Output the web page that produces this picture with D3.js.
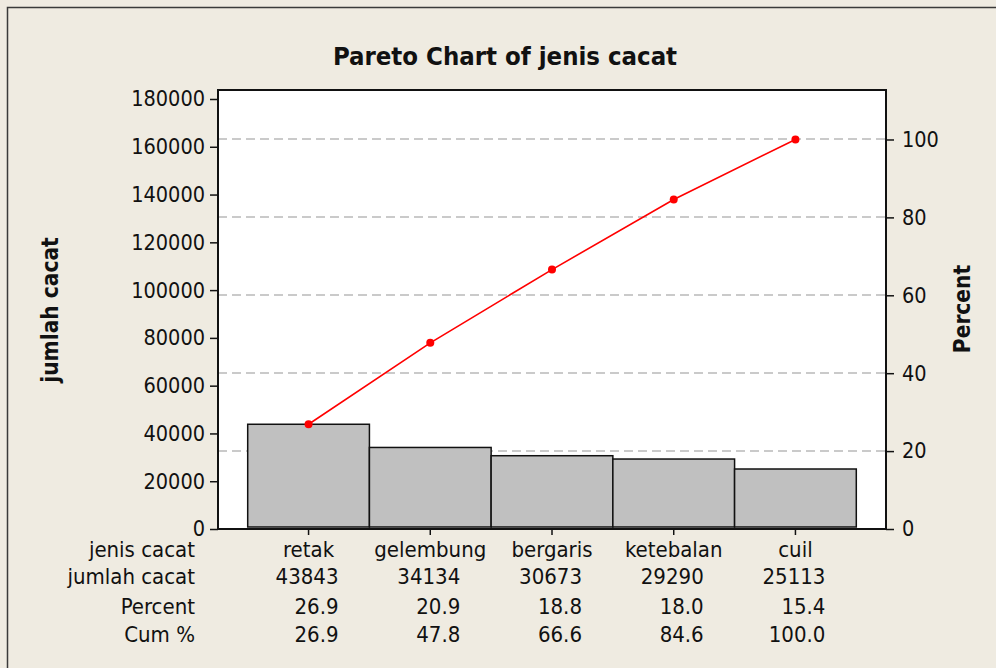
<!DOCTYPE html>
<html lang="en">
<head>
<meta charset="UTF-8">
<title>Pareto Chart of jenis cacat</title>
<script src="https://d3js.org/d3.v7.min.js"></script>
<style>
    html, body { margin: 0; padding: 0; background: #efebe1; }
    svg text { font-family: "DejaVu Sans Condensed", "DejaVu Sans", sans-serif; font-stretch: condensed; fill: #111; }
    .bold { font-weight: bold; }
</style>
</head>
<body>
<div id="chart"></div>
<script>
var categories = ["retak", "gelembung", "bergaris", "ketebalan", "cuil"];
var counts = [43843, 34134, 30673, 29290, 25113];
var percents = ["26.9", "20.9", "18.8", "18.0", "15.4"];
var cumPercents = ["26.9", "47.8", "66.6", "84.6", "100.0"];
var countTicks = [0, 20000, 40000, 60000, 80000, 100000, 120000, 140000, 160000, 180000];
var pctTicks = [0, 20, 40, 60, 80, 100];

var W = 996, H = 668;
var plot = { left: 218, right: 886, top: 90, bottom: 529 };
var total = d3.sum(counts);
var countMax = 183767;

var svg = d3.select("#chart").append("svg")
    .attr("width", W)
    .attr("height", H);

svg.append("rect")
    .attr("width", W).attr("height", H)
    .attr("fill", "#efebe1");

// outer frame
svg.append("rect")
    .attr("x", 7.5).attr("y", 7.5)
    .attr("width", 1100).attr("height", 1100)
    .attr("fill", "none")
    .attr("stroke", "#3a3a3a")
    .attr("stroke-width", 1.5);

var x = d3.scaleBand()
    .domain(categories)
    .range([plot.left, plot.right])
    .paddingInner(0)
    .paddingOuter(0.244);

var y = d3.scaleLinear()
    .domain([0, countMax])
    .range([plot.bottom, plot.top]);

var yPct = d3.scaleLinear()
    .domain([0, countMax / total * 100])
    .range([plot.bottom, plot.top]);

// plot area
svg.append("rect")
    .attr("x", plot.left).attr("y", plot.top)
    .attr("width", plot.right - plot.left)
    .attr("height", plot.bottom - plot.top)
    .attr("fill", "#fff");

// gridlines on percent scale
svg.selectAll(".grid")
    .data(pctTicks.filter(function(d) { return d > 0; }))
    .enter().append("line")
    .attr("class", "grid")
    .attr("x1", plot.left).attr("x2", plot.right)
    .attr("y1", function(d) { return Math.round(yPct(d)); })
    .attr("y2", function(d) { return Math.round(yPct(d)); })
    .attr("stroke", "#b9b9b9")
    .attr("stroke-width", 1.6)
    .attr("stroke-dasharray", "9,5");

// bars
svg.selectAll(".bar")
    .data(counts)
    .enter().append("rect")
    .attr("class", "bar")
    .attr("x", function(d, i) { return x(categories[i]); })
    .attr("y", function(d) { return y(d); })
    .attr("width", x.bandwidth())
    .attr("height", function(d) { return plot.bottom - y(d) - 2; })
    .attr("fill", "#c0c0c0")
    .attr("stroke", "#111")
    .attr("stroke-width", 1.5);

// cumulative line
var cx = function(i) { return x(categories[i]) + x.bandwidth() / 2; };
var line = d3.line()
    .x(function(d, i) { return cx(i); })
    .y(function(d) { return yPct(+d); });

svg.append("path")
    .datum(cumPercents)
    .attr("d", line)
    .attr("fill", "none")
    .attr("stroke", "#ff0000")
    .attr("stroke-width", 1.6);

svg.selectAll(".pt")
    .data(cumPercents)
    .enter().append("circle")
    .attr("class", "pt")
    .attr("cx", function(d, i) { return cx(i); })
    .attr("cy", function(d) { return yPct(+d); })
    .attr("r", 4)
    .attr("fill", "#ff0000");

// plot frame
svg.append("rect")
    .attr("x", plot.left).attr("y", plot.top)
    .attr("width", plot.right - plot.left)
    .attr("height", plot.bottom - plot.top)
    .attr("fill", "none")
    .attr("stroke", "#111")
    .attr("stroke-width", 2);

// left axis
var yAxis = d3.axisLeft(y).tickValues(countTicks).tickSize(8).tickPadding(5).tickFormat(d3.format("d"));
var gy = svg.append("g").attr("transform", "translate(" + plot.left + ",0)").call(yAxis);
gy.select(".domain").remove();
gy.selectAll("line").attr("stroke", "#111").attr("stroke-width", 1.5);
gy.selectAll("text").style("font-size", "21.5px").attr("fill", "#111");

// right axis
var pAxis = d3.axisRight(yPct).tickValues(pctTicks).tickSize(8).tickPadding(8);
var gp = svg.append("g").attr("transform", "translate(" + plot.right + ",0)").call(pAxis);
gp.select(".domain").remove();
gp.selectAll("line").attr("stroke", "#111").attr("stroke-width", 1.5);
gp.selectAll("text").style("font-size", "21.5px").attr("fill", "#111");

// x ticks
svg.selectAll(".xtick")
    .data(categories)
    .enter().append("line")
    .attr("class", "xtick")
    .attr("x1", function(d, i) { return cx(i); })
    .attr("x2", function(d, i) { return cx(i); })
    .attr("y1", plot.bottom)
    .attr("y2", plot.bottom + 6)
    .attr("stroke", "#111")
    .attr("stroke-width", 1.5);

// table rows under the chart
var rowLabels = ["jenis cacat", "jumlah cacat", "Percent", "Cum %"];
var rowY = [549, 576, 606, 634];
var rows = [categories, counts.map(String), percents, cumPercents];

svg.selectAll(".rowlab")
    .data(rowLabels)
    .enter().append("text")
    .attr("class", "rowlab")
    .attr("x", 195)
    .attr("y", function(d, i) { return rowY[i]; })
    .attr("dy", "0.36em")
    .attr("text-anchor", "end")
    .style("font-size", "22px")
    .text(function(d) { return d; });

rows.forEach(function(vals, r) {
    svg.selectAll(".row" + r)
        .data(vals)
        .enter().append("text")
        .attr("class", "row" + r)
        .attr("x", function(d, i) { return r === 0 ? cx(i) : cx(i) + 30; })
        .attr("y", rowY[r])
        .attr("dy", "0.36em")
        .attr("text-anchor", r === 0 ? "middle" : "end")
        .style("font-size", "22px")
        .text(function(d) { return d; });
});

// title and axis titles
svg.append("text")
    .attr("class", "bold")
    .attr("x", 505).attr("y", 56)
    .attr("dy", "0.36em")
    .attr("text-anchor", "middle")
    .style("font-size", "25.5px")
    .text("Pareto Chart of jenis cacat");

svg.append("text")
    .attr("class", "bold")
    .attr("transform", "translate(50,310) rotate(-90)")
    .attr("dy", "0.36em")
    .attr("text-anchor", "middle")
    .style("font-size", "22.5px")
    .text("jumlah cacat");

svg.append("text")
    .attr("class", "bold")
    .attr("transform", "translate(962,309) rotate(-90)")
    .attr("dy", "0.36em")
    .attr("text-anchor", "middle")
    .style("font-size", "22.5px")
    .text("Percent");
</script>
</body>
</html>
